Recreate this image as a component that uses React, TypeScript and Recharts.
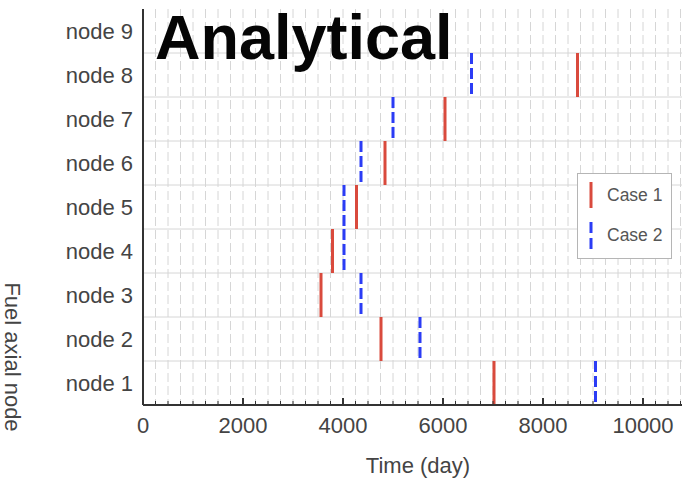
import React from "react";
import {
  ComposedChart,
  Line,
  XAxis,
  YAxis,
  CartesianGrid,
  ReferenceLine,
  Legend,
} from "recharts";

// node labels, bottom to top
const NODES = ["node 1", "node 2", "node 3", "node 4", "node 5", "node 6", "node 7", "node 8", "node 9"];
// time (day) of the event for each node; node 9 has none
const CASE1 = [7020, 4760, 3560, 3790, 4270, 4840, 6040, 8690, null];
const CASE2 = [9050, 5540, 4360, 4020, 4020, 4360, 5000, 6570, null];
const X_TICKS = Array.from({ length: 45 }, (_, i) => i * 250);
const X_LABEL_STEP = 2000;

const FONT = "'Liberation Sans', Arial, Helvetica, sans-serif";
const RED = "#d94a3d";
const BLUE = "#2b3cf5";
const TEXT = "#444";

// one vertical segment per node, spanning the node's band; null breaks the line
function toSegments(values: (number | null)[]) {
  const out: { t: number; y: number | null }[] = [];
  values.forEach((v, k) => {
    if (v == null) return;
    out.push({ t: v, y: k + 1 }, { t: v, y: k }, { t: v, y: null });
  });
  return out;
}

const case1Data = toSegments(CASE1);
const case2Data = toSegments(CASE2);

const BottomTick = (props: any) => {
  const { x, y, payload } = props;
  const v = payload.value as number;
  const major = v % X_LABEL_STEP === 0;
  return (
    <g>
      <line x1={x} x2={x} y1={y} y2={y - (major ? 7 : 4)} stroke="#333" strokeWidth={major ? 2 : 1} />
      {major && (
        <text x={x} y={y + 28} textAnchor="middle" fontSize={22} fontFamily={FONT} fill={TEXT}>
          {v}
        </text>
      )}
    </g>
  );
};

const TopTick = (props: any) => {
  const { x, y, payload } = props;
  const major = (payload.value as number) % X_LABEL_STEP === 0;
  if (!major) return <g />;
  return <line x1={x} x2={x} y1={y} y2={y + 6} stroke="#333" strokeWidth={2} />;
};

const LegendBox = () => (
  <div
    style={{
      boxSizing: "border-box",
      width: 95,
      height: 86,
      border: "1.5px solid #b5b5b5",
      background: "#fff",
      position: "relative",
    }}
  >
    <svg width={95} height={86} style={{ position: "absolute", left: -1.5, top: -1.5 }}>
      <line x1={14} x2={14} y1={9} y2={35} stroke={RED} strokeWidth={3} />
      <line x1={14} x2={14} y1={49} y2={77} stroke={BLUE} strokeWidth={3} strokeDasharray="11 5" />
      <text x={30} y={28} fontSize={17.5} fontFamily={FONT} fill="#555">
        Case 1
      </text>
      <text x={30} y={68} fontSize={17.5} fontFamily={FONT} fill="#555">
        Case 2
      </text>
    </svg>
  </div>
);

export default function App() {
  return (
    <div
      style={{
        position: "absolute",
        left: 0,
        top: 0,
        width: 682,
        height: 480,
        overflow: "hidden",
        background: "#fff",
      }}
    >
      <ComposedChart width={700} height={480} margin={{ top: 9, right: 7, bottom: 0, left: 40 }}>
        <CartesianGrid horizontal={false} stroke="#d6d6d6" strokeDasharray="9 4" />
        {[1, 2, 3, 4, 5, 6, 7, 8].map((k) => (
          <ReferenceLine key={k} y={k} stroke="#d6d6d6" strokeWidth={1} />
        ))}
        <XAxis
          dataKey="t"
          type="number"
          domain={[0, 11000]}
          ticks={X_TICKS}
          interval={0}
          tickSize={0}
          tickMargin={0}
          tickLine={false}
          tick={<BottomTick />}
          height={75}
          axisLine={{ stroke: "#333", strokeWidth: 2 }}
          label={{ value: "Time (day)", position: "insideBottom", offset: 7, fontSize: 22, fill: TEXT, fontFamily: FONT }}
          allowDataOverflow
        />
        <XAxis
          xAxisId="top"
          orientation="top"
          dataKey="t"
          type="number"
          domain={[0, 11000]}
          ticks={X_TICKS}
          interval={0}
          tickSize={0}
          tickMargin={0}
          tickLine={false}
          tick={<TopTick />}
          height={0}
          axisLine={{ stroke: "#333", strokeWidth: 2 }}
          allowDataOverflow
        />
        <YAxis
          type="number"
          domain={[0, 9]}
          ticks={[0.5, 1.5, 2.5, 3.5, 4.5, 5.5, 6.5, 7.5, 8.5]}
          tickFormatter={(v: number) => NODES[Math.floor(v)]}
          interval={0}
          width={103}
          tickLine={false}
          tickSize={0}
          tickMargin={10}
          axisLine={{ stroke: "#333", strokeWidth: 2 }}
          tick={{ fontSize: 22, fill: TEXT, fontFamily: FONT }}
          allowDataOverflow
        />
        <Line
          data={case1Data}
          dataKey="y"
          name="Case 1"
          stroke={RED}
          strokeWidth={3}
          dot={false}
          activeDot={false}
          connectNulls={false}
          isAnimationActive={false}
        />
        <Line
          data={case2Data}
          dataKey="y"
          name="Case 2"
          stroke={BLUE}
          strokeWidth={3}
          strokeDasharray="11 4"
          dot={false}
          activeDot={false}
          connectNulls={false}
          isAnimationActive={false}
        />
        <Legend
          layout="horizontal"
          align="center"
          verticalAlign="middle"
          wrapperStyle={{ left: 577, top: 173, width: 95, height: 86 }}
          content={() => <LegendBox />}
        />
      </ComposedChart>
      <svg
        width={682}
        height={480}
        style={{ position: "absolute", left: 0, top: 0, pointerEvents: "none" }}
      >
        <text x={155} y={59} fontSize={63} fontWeight="bold" fontFamily={FONT} fill="#050505">
          Analytical
        </text>
        <text
          x={0}
          y={0}
          transform="translate(5 357) rotate(90)"
          textAnchor="middle"
          fontSize={22}
          fontFamily={FONT}
          fill={TEXT}
        >
          Fuel axial node
        </text>
      </svg>
    </div>
  );
}
